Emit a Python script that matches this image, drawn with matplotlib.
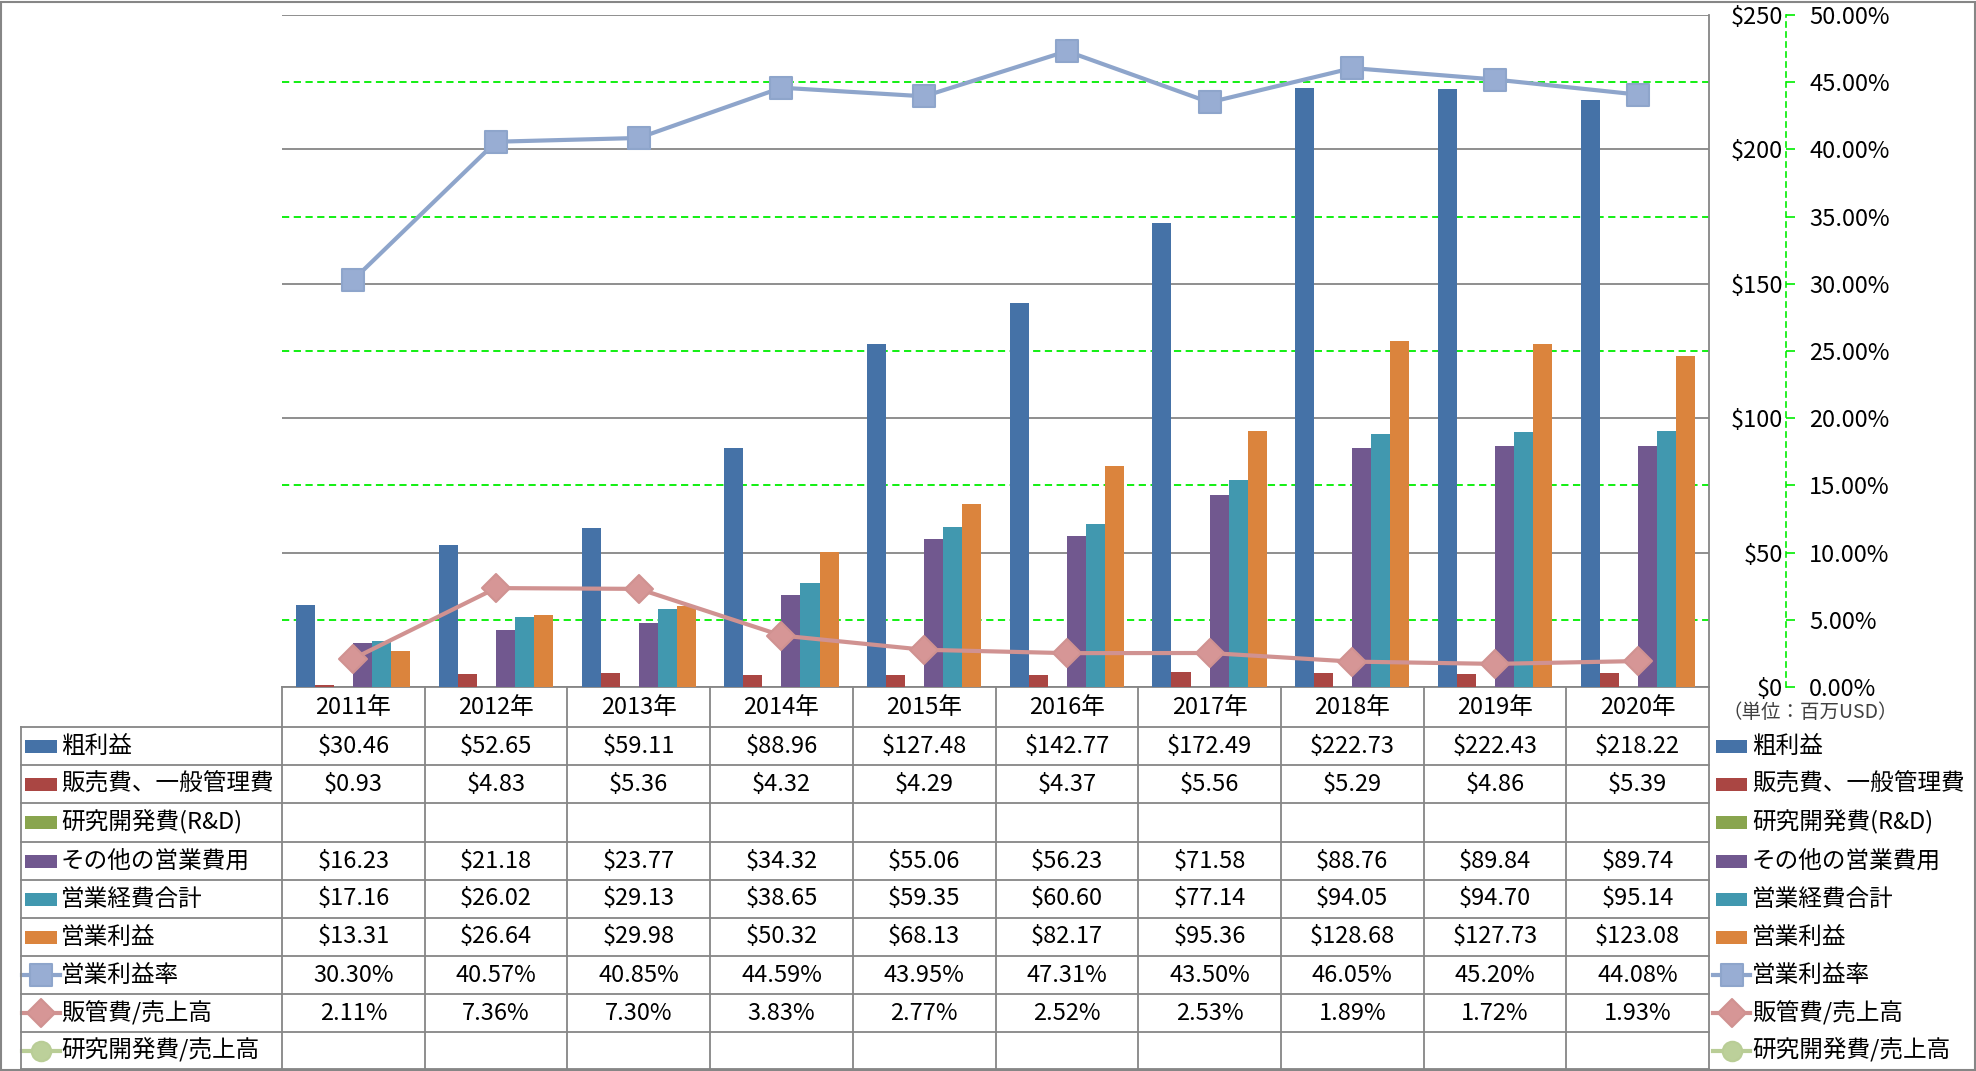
import matplotlib
matplotlib.use('Agg')
import matplotlib.pyplot as plt
from matplotlib.markers import MarkerStyle
from matplotlib.lines import Line2D
from matplotlib.patches import Rectangle
from matplotlib.ticker import FixedLocator
import numpy as np

plt.rcParams['font.family'] = ['Noto Sans CJK JP', 'DejaVu Sans']

# ---------------- data ----------------
years = ['2011年', '2012年', '2013年', '2014年', '2015年',
         '2016年', '2017年', '2018年', '2019年', '2020年']
gross_profit = [30.46, 52.65, 59.11, 88.96, 127.48, 142.77, 172.49, 222.73, 222.43, 218.22]
sga = [0.93, 4.83, 5.36, 4.32, 4.29, 4.37, 5.56, 5.29, 4.86, 5.39]
rnd = [np.nan] * 10
other_opex = [16.23, 21.18, 23.77, 34.32, 55.06, 56.23, 71.58, 88.76, 89.84, 89.74]
total_opex = [17.16, 26.02, 29.13, 38.65, 59.35, 60.60, 77.14, 94.05, 94.70, 95.14]
op_income = [13.31, 26.64, 29.98, 50.32, 68.13, 82.17, 95.36, 128.68, 127.73, 123.08]
op_margin = [30.30, 40.57, 40.85, 44.59, 43.95, 47.31, 43.50, 46.05, 45.20, 44.08]
sga_ratio = [2.11, 7.36, 7.30, 3.83, 2.77, 2.52, 2.53, 1.89, 1.72, 1.93]
rnd_ratio = [np.nan] * 10

bar_names = ['粗利益', '販売費、一般管理費', '研究開発費(R&D)', 'その他の営業費用', '営業経費合計', '営業利益']
bar_values = [gross_profit, sga, rnd, other_opex, total_opex, op_income]
bar_colors = ['#4572A7', '#AA4643', '#89A54E', '#71588F', '#4198AF', '#DB843D']

line_names = ['営業利益率', '販管費/売上高', '研究開発費/売上高']
line_values = [op_margin, sga_ratio, rnd_ratio]
line_colors = ['#8EA5CB', '#D09291', '#B9CD96']
line_face = ['#98ADD3', '#D69696', '#BCD09A']
line_markers = ['s', 'D', 'o']
line_ms = [15.5, 14.5, 14]

y_ticks = [0, 50, 100, 150, 200, 250]
pct_ticks = [0, 5, 10, 15, 20, 25, 30, 35, 40, 45, 50]

# ---------------- layout ----------------
FW, FH = 1976, 1071
fig = plt.figure(figsize=(FW / 100, FH / 100), dpi=100)
L, R, T, B = 282, 1709, 15, 687
W, H = R - L, B - T
ax = fig.add_axes([L / FW, 1 - B / FH, W / FW, H / FH])

def axx(px):
    return (px - L) / W

def axy(py):
    return (B - py) / H

GRAY = '#868686'
FS = 17

n = len(years)
x = np.arange(n)
nb = len(bar_values)
bw = 0.8 / nb
for k, (vals, col) in enumerate(zip(bar_values, bar_colors)):
    ax.bar(x + (k - (nb - 1) / 2) * bw, vals, width=bw, color=col, zorder=3, linewidth=0)

ax.set_xlim(-0.5, n - 0.5)
ax.set_ylim(0, 250)
ax.set_xticks([])

# secondary axis
ax2 = ax.twinx()
ax2.set_ylim(0, 0.5)
ax2.set_xlim(-0.5, n - 0.5)
for s in ['top', 'left', 'bottom']:
    ax2.spines[s].set_visible(False)
ax2.spines['right'].set_position(('outward', 55.5))
ax2.spines['right'].set_color('#00EE00')
ax2.spines['right'].set_linestyle((0, (3, 3)))
ax2.spines['right'].set_linewidth(1.2)
ax2.set_yticks([p / 100 for p in pct_ticks])
ax2.set_yticklabels([f'{p:.2f}%' for p in pct_ticks], fontsize=FS)
ax2.tick_params(axis='y', colors='#00EE00', length=6.5, width=1.2, pad=10, labelcolor='black')

# primary axis labels on the right
ax.yaxis.tick_right()
ax.set_yticks(y_ticks)
ax.set_yticklabels([f'${v}' for v in y_ticks], ha='right', fontsize=FS)
ax.tick_params(axis='y', which='major', length=0, pad=53.5, left=False, labelleft=False,
               right=False, labelright=True)
ax.yaxis.set_minor_locator(FixedLocator([25, 75, 125, 175, 225]))
ax.tick_params(axis='y', which='minor', length=0)
ax.grid(axis='y', which='major', color=GRAY, lw=1.3, ls='-')
ax.grid(axis='y', which='minor', color='#00EE00', lw=1.3, ls=(0, (4, 2.5)))
ax.set_axisbelow(True)
for s in ['top', 'left']:
    ax.spines[s].set_visible(False)
ax.spines['bottom'].set_color(GRAY)
ax.spines['bottom'].set_linewidth(1.3)
ax.spines['right'].set_color(GRAY)
ax.spines['right'].set_linewidth(1.3)

for vals, col, fc, mk, ms in zip(line_values, line_colors, line_face, line_markers, line_ms):
    ax2.plot(x, np.array(vals) / 100, color=col, lw=3, zorder=5,
             marker=MarkerStyle(mk, joinstyle='round'), ms=ms,
             mfc=fc, mec=col, mew=1.5, solid_joinstyle='round')

# ---------------- data table ----------------
rows_b = [727, 765, 803, 842, 880, 918, 956, 994, 1032, 1069]
left_px = 21
xt = ax.get_xaxis_transform()
tA = ax.transAxes
lkw = dict(color=GRAY, lw=1.3, clip_on=False, zorder=6)

for i in range(n + 1):
    ax.plot([i - 0.5, i - 0.5], [0, axy(rows_b[-1])], transform=xt, **lkw)
ax.plot([axx(left_px), axx(left_px)], [axy(rows_b[0]), axy(rows_b[-1])], transform=tA, **lkw)
for yb in rows_b:
    ax.plot([axx(left_px), 1], [axy(yb), axy(yb)], transform=tA, **lkw)

hy = axy((B + rows_b[0]) / 2)
for i, yl in enumerate(years):
    ax.text(i, hy, yl, transform=xt, ha='center', va='center', fontsize=FS)

all_names = bar_names + line_names
all_vals = bar_values + line_values
is_pct = [False] * nb + [True] * len(line_values)

def draw_key(j, x0px, x1px, yc):
    if j < nb:
        ax.add_patch(Rectangle((axx(x0px), yc - 6.5 / H), axx(x1px) - axx(x0px), 13 / H,
                               transform=tA, color=bar_colors[j], clip_on=False, lw=0))
    else:
        k = j - nb
        ax.add_line(Line2D([axx(x0px - 3), axx(x1px + 3)], [yc, yc], transform=tA,
                           color=line_colors[k], lw=3, clip_on=False))
        ax.add_line(Line2D([axx((x0px + x1px) / 2)], [yc], transform=tA,
                           marker=MarkerStyle(line_markers[k], joinstyle='round'),
                           ms=line_ms[k], mfc=line_face[k], mec=line_colors[k], mew=1.5,
                           clip_on=False))

for j, (name, vals, pct) in enumerate(zip(all_names, all_vals, is_pct)):
    yc = axy((rows_b[j] + rows_b[j + 1]) / 2)
    draw_key(j, 25, 57, yc)
    ax.text(axx(61), yc, name, transform=tA, ha='left', va='center', fontsize=FS)
    draw_key(j, 1716, 1747, yc)
    ax.text(axx(1752), yc, name, transform=tA, ha='left', va='center', fontsize=FS)
    for i, v in enumerate(vals):
        if v is None or (isinstance(v, float) and np.isnan(v)):
            continue
        s = f'{v:.2f}%' if pct else f'${v:.2f}'
        ax.text(i, yc, s, transform=xt, ha='center', va='center', fontsize=FS)

ax.text(axx(1722), axy(713), '（単位：百万USD）', transform=tA, ha='left', va='center',
        fontsize=14, color='#404040')

fig.add_artist(Rectangle((1 / FW, 1 / FH), 1 - 2.5 / FW, 1 - 2.5 / FH, transform=fig.transFigure,
                         fill=False, ec=GRAY, lw=1.5))

fig.savefig('out.png', dpi=100)
